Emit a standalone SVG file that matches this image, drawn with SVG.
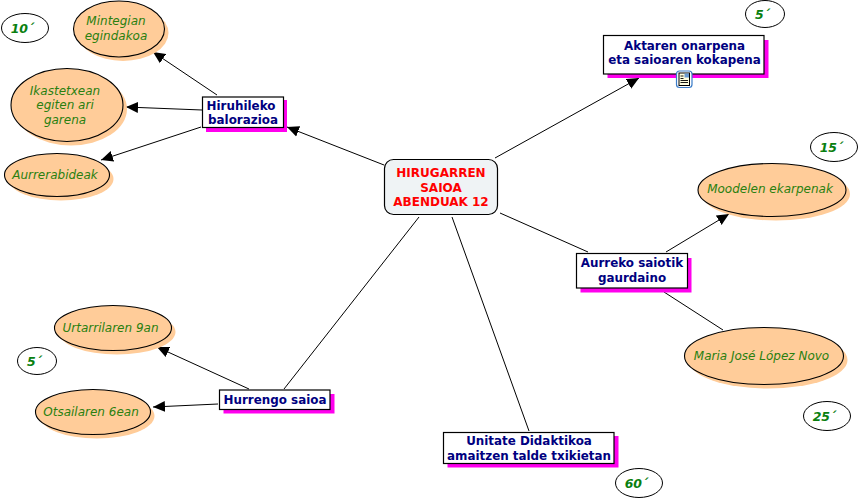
<svg xmlns="http://www.w3.org/2000/svg" width="859" height="500" viewBox="0 0 859 500">
<style>
text{font-family:"DejaVu Sans",Verdana,sans-serif;text-anchor:middle}
.c{stroke:#000;stroke-width:1;fill:none}
.a{marker-end:url(#h)}
.s{fill:#f0e}
.b{fill:#fff;stroke:#000;stroke-width:1.2}
.es{fill:#fc9}
.e{fill:#fc9;stroke:#000;stroke-width:1.1}
.t{fill:#fff;stroke:#000;stroke-width:1}
.bl{font-weight:bold;font-size:11.9px;fill:#000080}
.it{font-style:italic;font-size:12px;fill:#2a8010}
.tm{font-style:italic;font-weight:bold;font-size:12.5px;fill:#0a8010}
.rd{font-weight:bold;font-size:12px;fill:#f00}
</style>
<defs>
<marker id="h" markerUnits="userSpaceOnUse" markerWidth="13" markerHeight="12" refX="12" refY="6" orient="auto"><path d="M0,0.500L12,6L0,11.500Z" fill="#000"/></marker>
</defs>
<rect width="859" height="500" fill="#fff"/>
<g id="connectors">
<line class="c a" x1="384" y1="165" x2="287" y2="127"/>
<line class="c a" x1="217" y1="95" x2="153" y2="52"/>
<line class="c a" x1="202" y1="110" x2="126" y2="107"/>
<line class="c a" x1="201" y1="127" x2="101" y2="160"/>
<line class="c a" x1="495" y1="158" x2="639" y2="78"/>
<line class="c" x1="500" y1="213" x2="588" y2="252"/>
<line class="c a" x1="666" y1="252" x2="729" y2="214"/>
<line class="c" x1="664" y1="292" x2="723" y2="330"/>
<line class="c" x1="419" y1="217" x2="284" y2="389"/>
<line class="c" x1="452" y1="217" x2="529" y2="431"/>
<line class="c a" x1="249" y1="389" x2="157" y2="347"/>
<line class="c a" x1="218" y1="404" x2="153" y2="407"/>
</g>
<g id="center"><rect x="384.500" y="159.500" width="113" height="55" rx="9" fill="#eff3f5" stroke="#000" stroke-width="1.200"/>
<text class="rd" x="441" y="177">HIRUGARREN</text><text class="rd" x="441" y="191.500">SAIOA</text><text class="rd" x="441" y="206">ABENDUAK 12</text></g>
<g id="hiruhileko"><rect class="s" x="206" y="100" width="81" height="32"/><rect class="b" x="202.500" y="97" width="81" height="30.500"/>
<text class="bl" x="241" y="109.500">Hiruhileko</text><text class="bl" x="243" y="124">balorazioa</text></g>
<g id="aktaren"><rect class="s" x="607.500" y="40" width="161" height="38"/><rect class="b" x="603.500" y="35.500" width="160.500" height="38.500"/>
<text class="bl" x="684.500" y="49.500">Aktaren onarpena</text><text class="bl" x="684.500" y="64">eta saioaren kokapena</text>
<g id="note-icon"><rect x="676.500" y="71" width="15.500" height="16.500" rx="3" fill="#fff" stroke="#3a7cc8" stroke-width="1.200"/><rect x="679" y="73" width="10.500" height="12.500" fill="#ffffe0" stroke="#000" stroke-width="1"/><rect x="684.500" y="73.500" width="4.500" height="4" fill="#6a9bd0"/><path d="M680.500,76h3M680.500,78.500h3M680.500,80.500h7.500M680.500,82.500h7.500" stroke="#000" stroke-width="0.900"/></g></g>
<g id="aurreko"><rect class="s" x="580.500" y="258" width="111" height="34.500"/><rect class="b" x="576.500" y="253.500" width="111" height="34.500"/>
<text class="bl" x="632" y="267">Aurreko saiotik</text><text class="bl" x="632" y="282">gaurdaino</text></g>
<g id="hurrengo"><rect class="s" x="223.500" y="394" width="111" height="19.500"/><rect class="b" x="219.500" y="390" width="110.500" height="19.500"/>
<text class="bl" x="275" y="403.500">Hurrengo saioa</text></g>
<g id="unitate"><rect class="s" x="447.500" y="436" width="171" height="31.500"/><rect class="b" x="443.500" y="432.500" width="170.500" height="31"/>
<text class="bl" x="529" y="445">Unitate Didaktikoa</text><text class="bl" x="529" y="460">amaitzen talde txikietan</text></g>
<g id="mintegian"><ellipse class="es" cx="123" cy="33" rx="45.500" ry="28"/><ellipse class="e" cx="119" cy="29" rx="45.500" ry="28"/>
<text class="it" x="116" y="25">Mintegian</text><text class="it" x="116" y="39.500">egindakoa</text></g>
<g id="ikastetxean"><ellipse class="es" cx="71" cy="109" rx="56" ry="36.500"/><ellipse class="e" cx="67" cy="105" rx="56" ry="36.500"/>
<text class="it" x="65" y="94.500">Ikastetxean</text><text class="it" x="65" y="109">egiten ari</text><text class="it" x="65" y="124">garena</text></g>
<g id="aurrerabideak"><ellipse class="es" cx="61" cy="179" rx="52.500" ry="21.500"/><ellipse class="e" cx="57" cy="175" rx="52.500" ry="21.500"/>
<text class="it" x="55" y="179">Aurrerabideak</text></g>
<g id="moodelen"><ellipse class="es" cx="776" cy="194" rx="74" ry="26.500"/><ellipse class="e" cx="772" cy="190" rx="74" ry="26.500"/>
<text class="it" x="770" y="193">Moodelen ekarpenak</text></g>
<g id="maria"><ellipse class="es" cx="768" cy="360" rx="79.500" ry="28.500"/><ellipse class="e" cx="764" cy="356" rx="79.500" ry="28.500"/>
<text class="it" x="761.500" y="360">Maria José López Novo</text></g>
<g id="urtarrilaren"><ellipse class="es" cx="117" cy="332" rx="58.500" ry="22.500"/><ellipse class="e" cx="113" cy="328" rx="58.500" ry="22.500"/>
<text class="it" x="110.500" y="332">Urtarrilaren 9an</text></g>
<g id="otsailaren"><ellipse class="es" cx="97" cy="416" rx="57.500" ry="22.500"/><ellipse class="e" cx="93" cy="412" rx="57.500" ry="22.500"/>
<text class="it" x="91" y="416">Otsailaren 6ean</text></g>
<g id="t10"><ellipse class="t" cx="25" cy="28" rx="23.500" ry="14.500"/><text class="tm" x="22.500" y="33">10´</text></g>
<g id="t5a"><ellipse class="t" cx="765" cy="14" rx="19.500" ry="13.500"/><text class="tm" x="762.500" y="19">5´</text></g>
<g id="t15"><ellipse class="t" cx="834" cy="147" rx="23.500" ry="14.500"/><text class="tm" x="831.500" y="152">15´</text></g>
<g id="t5b"><ellipse class="t" cx="37" cy="361" rx="19.500" ry="13.500"/><text class="tm" x="34.500" y="366">5´</text></g>
<g id="t25"><ellipse class="t" cx="827" cy="416" rx="23.500" ry="14.500"/><text class="tm" x="824.500" y="421">25´</text></g>
<g id="t60"><ellipse class="t" cx="639" cy="483" rx="23.500" ry="14.500"/><text class="tm" x="636.500" y="488">60´</text></g>
</svg>
